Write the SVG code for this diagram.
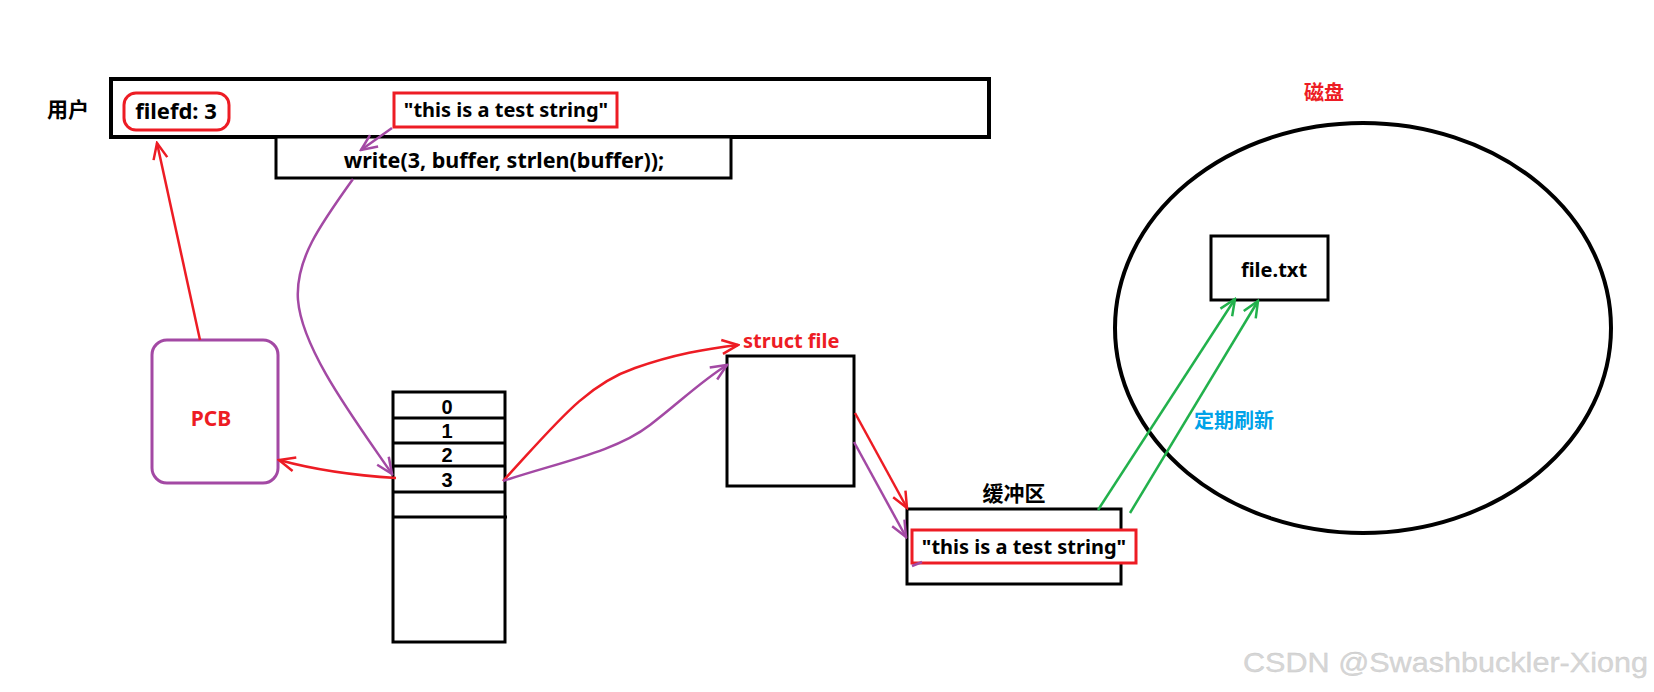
<svg xmlns="http://www.w3.org/2000/svg" width="1654" height="692" viewBox="0 0 1654 692">
<style>
  .t { font-family: "Noto Sans", "Noto Sans CJK SC", sans-serif; font-weight: bold; font-size: 20px; fill: #000; }
  .d { font-family: "Liberation Sans", Arial, sans-serif; font-weight: bold; font-size: 20px; fill: #000; }
  .cjk { font-family: "Noto Sans CJK SC", sans-serif; font-weight: bold; font-size: 20px; }
  .box { fill: #fff; stroke: #000; stroke-width: 3; }
  .thick { fill: #fff; stroke: #000; stroke-width: 4; }
  .red { fill: none; stroke: #ed1c24; stroke-width: 2.5; }
  .pur { fill: none; stroke: #a349a4; stroke-width: 2.5; }
  .grn { fill: none; stroke: #22b14c; stroke-width: 2.5; }
  .redbox { fill: none; stroke: #ed1c24; stroke-width: 3; }
</style>
<defs>
  <marker id="aR" viewBox="0 0 20 20" refX="18" refY="10" markerWidth="20" markerHeight="20" markerUnits="userSpaceOnUse" orient="auto">
    <path d="M2,3 L18,10 L2,17" fill="none" stroke="#ed1c24" stroke-width="2.5"/>
  </marker>
  <marker id="aP" viewBox="0 0 20 20" refX="18" refY="10" markerWidth="20" markerHeight="20" markerUnits="userSpaceOnUse" orient="auto">
    <path d="M2,3 L18,10 L2,17" fill="none" stroke="#a349a4" stroke-width="2.5"/>
  </marker>
  <marker id="aG" viewBox="0 0 20 20" refX="18" refY="10" markerWidth="20" markerHeight="20" markerUnits="userSpaceOnUse" orient="auto">
    <path d="M2,3 L18,10 L2,17" fill="none" stroke="#22b14c" stroke-width="2.5"/>
  </marker>
</defs>
<rect width="1654" height="692" fill="#fff"/>

<g id="user">
  <text class="cjk" x="47" y="117" fill="#000" style="font-size:21px">用户</text>
  <rect class="thick" x="111" y="79" width="878" height="58"/>
</g>
<g id="write">
  <rect class="box" x="276" y="137" width="455" height="41"/>
  <text class="t" x="504" y="168" text-anchor="middle" style="font-size:21.5px">write(3, buffer, strlen(buffer));</text>
</g>
<g id="filefd">
  <rect class="redbox" x="124" y="93" width="105" height="37" rx="12"/>
  <text class="t" x="176" y="119" text-anchor="middle" style="font-size:22px">filefd: 3</text>
</g>
<g id="userstr">
  <rect class="redbox" x="394" y="93" width="223" height="34"/>
  <text class="t" x="506" y="117" text-anchor="middle">"this is a test string"</text>
</g>

<g id="pcb">
  <rect x="152" y="340" width="126" height="143" rx="15" fill="#fff" stroke="#a349a4" stroke-width="3"/>
  <text class="t" x="211" y="426" text-anchor="middle" style="fill:#ed1c24;font-size:21px">PCB</text>
</g>

<g id="fdtable">
  <rect class="box" x="393" y="392" width="112" height="250"/>
  <line x1="393" y1="418" x2="505" y2="418" stroke="#000" stroke-width="3"/>
  <line x1="393" y1="443" x2="505" y2="443" stroke="#000" stroke-width="3"/>
  <line x1="393" y1="466" x2="505" y2="466" stroke="#000" stroke-width="3"/>
  <line x1="393" y1="492" x2="505" y2="492" stroke="#000" stroke-width="3"/>
  <line x1="393" y1="517" x2="507" y2="517" stroke="#000" stroke-width="3"/>
  <text class="d" x="447" y="414" text-anchor="middle">0</text>
  <text class="d" x="447" y="438" text-anchor="middle">1</text>
  <text class="d" x="447" y="462" text-anchor="middle">2</text>
  <text class="d" x="447" y="487" text-anchor="middle">3</text>
</g>

<g id="structfile">
  <text class="t" x="743" y="348" style="fill:#ed1c24">struct file</text>
  <rect class="box" x="727" y="356" width="127" height="130"/>
</g>

<g id="buffer">
  <text class="cjk" x="1014" y="501" text-anchor="middle" fill="#000" style="font-size:21px">缓冲区</text>
  <rect class="box" x="907" y="509" width="214" height="75"/>
  <rect class="redbox" x="912" y="530" width="224" height="33" style="fill:#fff"/>
  <text class="t" x="1024" y="554" text-anchor="middle">"this is a test string"</text>
</g>

<g id="disk">
  <text class="cjk" x="1324" y="100" text-anchor="middle" fill="#ed1c24">磁盘</text>
  <ellipse cx="1363" cy="328" rx="248" ry="205" fill="none" stroke="#000" stroke-width="4"/>
  <rect class="box" x="1211" y="236" width="117" height="64"/>
  <text class="t" x="1274" y="277" text-anchor="middle">file.txt</text>
  <text class="cjk" x="1234" y="428" text-anchor="middle" fill="#00a2e8">定期刷新</text>
</g>

<g id="connectors">
  <path class="pur" d="M392,128 L361,150" marker-end="url(#aP)"/>
  <path class="pur" d="M353,179 C320,225 295,260 298,300 C302,350 355,420 392,474" marker-end="url(#aP)"/>
  <path class="red" d="M396,478 Q330,474 279,460" marker-end="url(#aR)"/>
  <path class="red" d="M200,340 L157,143" marker-end="url(#aR)"/>
  <path class="red" d="M503,481 C555,425 585,385 635,368 C675,354 705,349 738,345" marker-end="url(#aR)"/>
  <path class="pur" d="M503,481 C560,462 615,452 650,425 C680,402 700,382 727,365" marker-end="url(#aP)"/>
  <path class="red" d="M855,413 L907,508" marker-end="url(#aR)"/>
  <path class="pur" d="M854,442 L906,537" marker-end="url(#aP)"/>
  <path class="pur" d="M912,566 L922,562"/>
  <path class="grn" d="M1098,510 L1235,299" marker-end="url(#aG)"/>
  <path class="grn" d="M1130,513 L1258,301" marker-end="url(#aG)"/>
</g>

<text x="1243" y="672" textLength="405" lengthAdjust="spacingAndGlyphs" font-family="Liberation Sans, Arial, sans-serif" font-size="28" fill="#d6d6d6" stroke="#c8c8c8" stroke-width="0.3">CSDN @Swashbuckler-Xiong</text>
</svg>
